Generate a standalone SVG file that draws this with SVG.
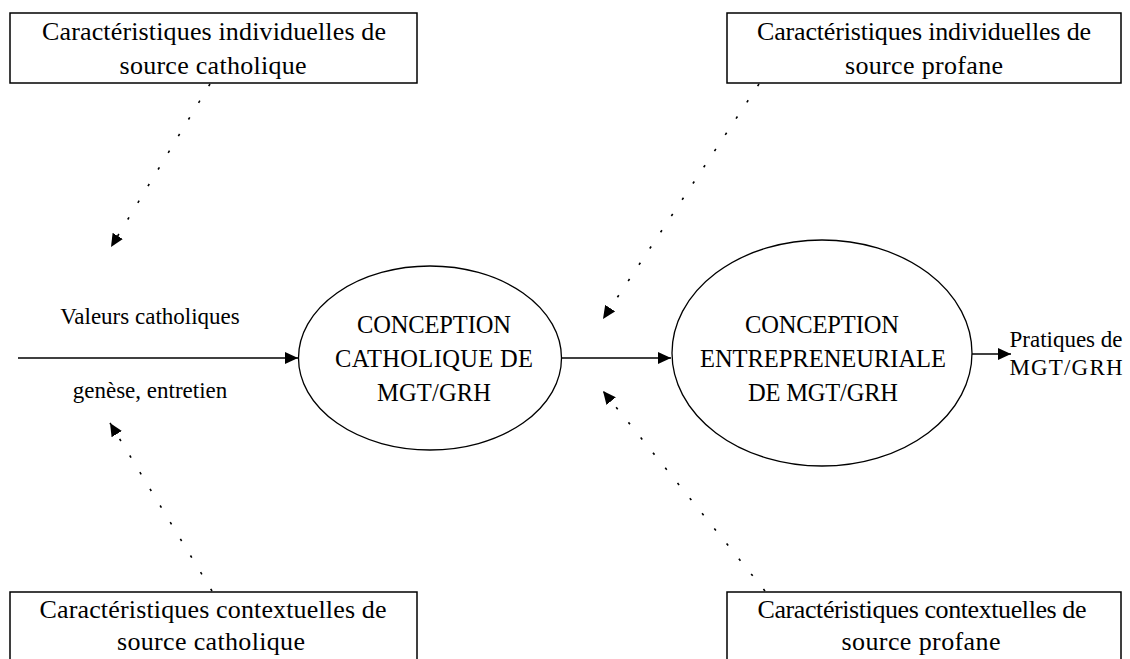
<svg xmlns="http://www.w3.org/2000/svg" width="1130" height="659" viewBox="0 0 1130 659">
  <style>
    text { font-family: "Liberation Serif", "Times New Roman", serif; fill: #000; text-anchor: middle; }
    .box { fill: #fff; stroke: #000; stroke-width: 1.5; }
    .node { fill: #fff; stroke: #000; stroke-width: 1.3; }
    .bt { font-size: 26px; }
    .et { font-size: 24.5px; }
    .lt { font-size: 23px; }
    .solid { fill: none; stroke: #000; stroke-width: 1.3; marker-end: url(#arrow); }
    .dotted { fill: none; stroke: #000; stroke-width: 1.6; stroke-dasharray: 2.5 17; marker-end: url(#arrow); }
  </style>
  <defs>
    <marker id="arrow" markerUnits="userSpaceOnUse" markerWidth="13" markerHeight="12" refX="13" refY="6" orient="auto">
      <path d="M0,0 L13,6 L0,12 z" fill="#000"/>
    </marker>
  </defs>
  <rect width="1130" height="659" fill="#fff"/>

  <g id="connectors">
    <line class="solid" x1="18" y1="358" x2="298" y2="358"/>
    <line class="solid" x1="561" y1="358" x2="671" y2="358"/>
    <line class="solid" x1="972" y1="354" x2="1011" y2="354"/>
    <line class="dotted" x1="210" y1="84" x2="111" y2="247"/>
    <line class="dotted" x1="212" y1="591" x2="110" y2="423"/>
    <line class="dotted" x1="759" y1="84" x2="603" y2="319"/>
    <line class="dotted" x1="765" y1="591" x2="603" y2="391"/>
  </g>

  <g id="ind-catholique">
    <rect class="box" x="10" y="13" width="407" height="70"/>
    <text class="bt" x="214" y="40" textLength="344">Caractéristiques individuelles de</text>
    <text class="bt" x="213" y="74" textLength="187">source catholique</text>
  </g>

  <g id="ind-profane">
    <rect class="box" x="727" y="13" width="394" height="70"/>
    <text class="bt" x="924" y="40" textLength="334">Caractéristiques individuelles de</text>
    <text class="bt" x="924" y="74" textLength="158">source profane</text>
  </g>

  <g id="ctx-catholique">
    <rect class="box" x="10" y="592" width="407" height="80"/>
    <text class="bt" x="213" y="618" textLength="347">Caractéristiques contextuelles de</text>
    <text class="bt" x="211" y="650" textLength="188">source catholique</text>
  </g>

  <g id="ctx-profane">
    <rect class="box" x="727" y="592" width="394" height="80"/>
    <text class="bt" x="922" y="618" textLength="329">Caractéristiques contextuelles de</text>
    <text class="bt" x="921" y="650" textLength="159">source profane</text>
  </g>

  <g id="valeurs">
    <text class="lt" x="150" y="324">Valeurs catholiques</text>
    <text class="lt" x="150" y="398">genèse, entretien</text>
  </g>

  <g id="conception-catholique">
    <ellipse class="node" cx="430" cy="358" rx="131.5" ry="92"/>
    <text class="et" x="434" y="333" textLength="154">CONCEPTION</text>
    <text class="et" x="434" y="367" textLength="198">CATHOLIQUE DE</text>
    <text class="et" x="434" y="401" textLength="114">MGT/GRH</text>
  </g>

  <g id="conception-entrepreneuriale">
    <ellipse class="node" cx="822" cy="353" rx="150" ry="113"/>
    <text class="et" x="822" y="333" textLength="154">CONCEPTION</text>
    <text class="et" x="823" y="367" textLength="246">ENTREPRENEURIALE</text>
    <text class="et" x="823" y="401" textLength="150">DE MGT/GRH</text>
  </g>

  <g id="pratiques">
    <text class="lt" x="1066" y="347" textLength="113">Pratiques de</text>
    <text class="lt" x="1066" y="375" textLength="113">MGT/GRH</text>
  </g>
</svg>
